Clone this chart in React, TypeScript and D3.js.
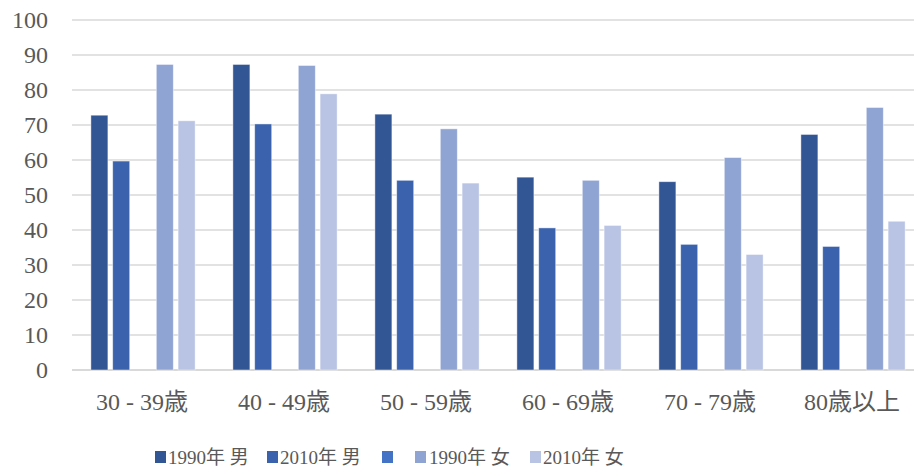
import React from "react";
import * as d3 from "d3";

// Age groups along the x axis
const categories = ["30 - 39歳", "40 - 49歳", "50 - 59歳", "60 - 69歳", "70 - 79歳", "80歳以上"];

// Series names (the third slot is an empty series that only appears in the legend)
const seriesNames = ["1990年 男", "2010年 男", "", "1990年 女", "2010年 女"];
const seriesColors = ["#325594", "#3b63ad", "#4472c4", "#90a4d4", "#b9c3e3"];

// Values per series, one per age group
const male1990 = [72.8, 87.3, 73.1, 55.1, 53.8, 67.3];
const male2010 = [59.7, 70.3, 54.2, 40.6, 35.9, 35.3];
const blankSeries: (number | null)[] = [null, null, null, null, null, null];
const female1990 = [87.3, 87.0, 68.9, 54.2, 60.7, 75.0];
const female2010 = [71.2, 78.9, 53.4, 41.3, 33.0, 42.5];

const seriesValues: (number | null)[][] = [male1990, male2010, blankSeries, female1990, female2010];

const yTicks = [0, 10, 20, 30, 40, 50, 60, 70, 80, 90, 100];

const W = 914;
const H = 470;
const plotLeft = 72;
const plotRight = 924;
const plotTop = 20;
const plotBottom = 370;

const FONT = "'Liberation Serif', 'Noto Sans CJK JP', serif";
const TEXT = "#595959";
const GRID = "#d9d9d9";

export default function App() {
  const x0 = d3.scaleBand<string>().domain(categories).range([plotLeft, plotRight]).padding(0);
  const x1 = d3
    .scaleBand<number>()
    .domain(d3.range(seriesNames.length))
    .range([0, x0.bandwidth()])
    .paddingInner(0.22)
    .paddingOuter(0.867);
  const y = d3.scaleLinear().domain([0, 100]).range([plotBottom, plotTop]);

  // Legend layout: square + label, laid out left to right
  const legendItems = [
    { sq: 155, tx: 168 },
    { sq: 267, tx: 280 },
    { sq: 382, tx: 395 },
    { sq: 415, tx: 429 },
    { sq: 530, tx: 543 },
  ];

  return (
    <svg
      width={W}
      height={H}
      style={{ position: "absolute", left: 0, top: 0, background: "#fff" }}
      fontFamily={FONT}
    >
      {/* gridlines */}
      {yTicks.map((t) => (
        <line
          key={t}
          x1={plotLeft}
          x2={plotRight}
          y1={y(t)}
          y2={y(t)}
          stroke={GRID}
          strokeWidth={t === 0 ? 2 : 1.5}
        />
      ))}

      {/* y tick labels */}
      {yTicks.map((t) => (
        <text
          key={t}
          x={48}
          y={y(t)}
          dy="0.34em"
          textAnchor="end"
          fontSize={24}
          fill={TEXT}
        >
          {t}
        </text>
      ))}

      {/* bars */}
      {categories.map((c, ci) => (
        <g key={c} transform={`translate(${x0(c)},0)`}>
          {seriesValues.map((vals, si) => {
            const v = vals[ci];
            if (v == null) return null;
            return (
              <rect
                key={si}
                x={x1(si)}
                y={y(v)}
                width={x1.bandwidth()}
                height={y(0) - y(v)}
                fill={seriesColors[si]}
                stroke="#ffffff"
                strokeOpacity={0.55}
                strokeWidth={0.8}
              />
            );
          })}
        </g>
      ))}

      {/* category labels */}
      {categories.map((c) => (
        <text
          key={c}
          x={(x0(c) as number) + x0.bandwidth() / 2 - 1}
          y={410}
          textAnchor="middle"
          fontSize={24}
          fill={TEXT}
        >
          {c}
        </text>
      ))}

      {/* legend */}
      {seriesNames.map((name, i) => (
        <g key={i}>
          <rect x={legendItems[i].sq} y={451} width={11} height={12} fill={seriesColors[i]} />
          <text x={legendItems[i].tx} y={464} fontSize={19} fill={TEXT}>
            {name}
          </text>
        </g>
      ))}
    </svg>
  );
}
